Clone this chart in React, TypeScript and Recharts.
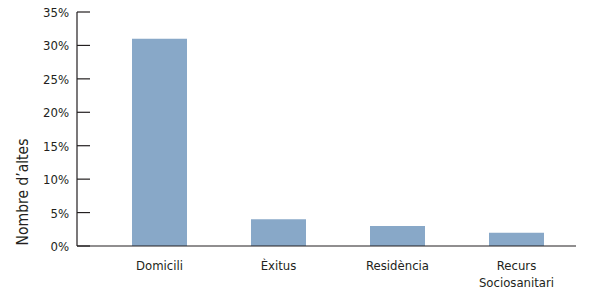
import React from 'react';
import { BarChart, Bar, XAxis, YAxis, Label } from 'recharts';

const categories = ['Domicili', 'Èxitus', 'Residència', 'Recurs\nSociosanitari'];
const shares = [0.31, 0.04, 0.03, 0.02];
const yTicks = [0, 0.05, 0.1, 0.15, 0.2, 0.25, 0.3, 0.35];

const data = categories.map((name, i) => ({ name, value: shares[i] }));

const FONT = '"Liberation Sans Narrow", "DejaVu Sans Condensed", "Open Sans", sans-serif';
const INK = '#231f20';
const BAR = '#88a8c8';

const YTick = (props: any) => {
  const { x, y, payload } = props;
  return (
    <g>
      <line x1={x} y1={y} x2={x + 13} y2={y} stroke={INK} strokeWidth={1.2} />
      <text x={x - 8} y={y} dy={5} textAnchor="end" fill={INK} fontSize={13} fontFamily={FONT}>
        {`${Math.round(payload.value * 100)}%`}
      </text>
    </g>
  );
};

const XTick = (props: any) => {
  const { x, y, payload } = props;
  const lines = String(payload.value).split('\n');
  return (
    <text x={x} y={y} textAnchor="middle" fill={INK} fontSize={13} fontFamily={FONT}>
      {lines.map((l, i) => (
        <tspan key={i} x={x} dy={i === 0 ? 24 : 17}>{l}</tspan>
      ))}
    </text>
  );
};

const AxisTitle = () => (
  <text
    x={28}
    y={192}
    transform="rotate(-90 28 192)"
    textAnchor="middle"
    fill={INK}
    fontSize={15.5}
    fontFamily={FONT}
  >
    Nombre d’altes
  </text>
);

export default function App() {
  return (
    <div style={{ position: 'absolute', left: 0, top: 0, width: 596, height: 290, background: '#fff' }}>
      <BarChart width={596} height={290} data={data} margin={{ top: 12, right: 20, bottom: 0, left: 0 }}>
        <XAxis
          dataKey="name"
          height={44}
          padding={{ left: 23, right: 0 }}
          axisLine={{ stroke: INK, strokeWidth: 1.2 }}
          tickLine={false}
          tickSize={0}
          tickMargin={0}
          interval={0}
          tick={<XTick />}
        />
        <YAxis
          width={77}
          domain={[0, 0.35]}
          ticks={yTicks}
          allowDataOverflow
          axisLine={{ stroke: INK, strokeWidth: 1.2 }}
          tickLine={false}
          tickSize={0}
          tickMargin={0}
          tick={<YTick />}
        >
          <Label content={<AxisTitle />} />
        </YAxis>
        <Bar dataKey="value" fill={BAR} barSize={55} isAnimationActive={false} />
      </BarChart>
    </div>
  );
}
